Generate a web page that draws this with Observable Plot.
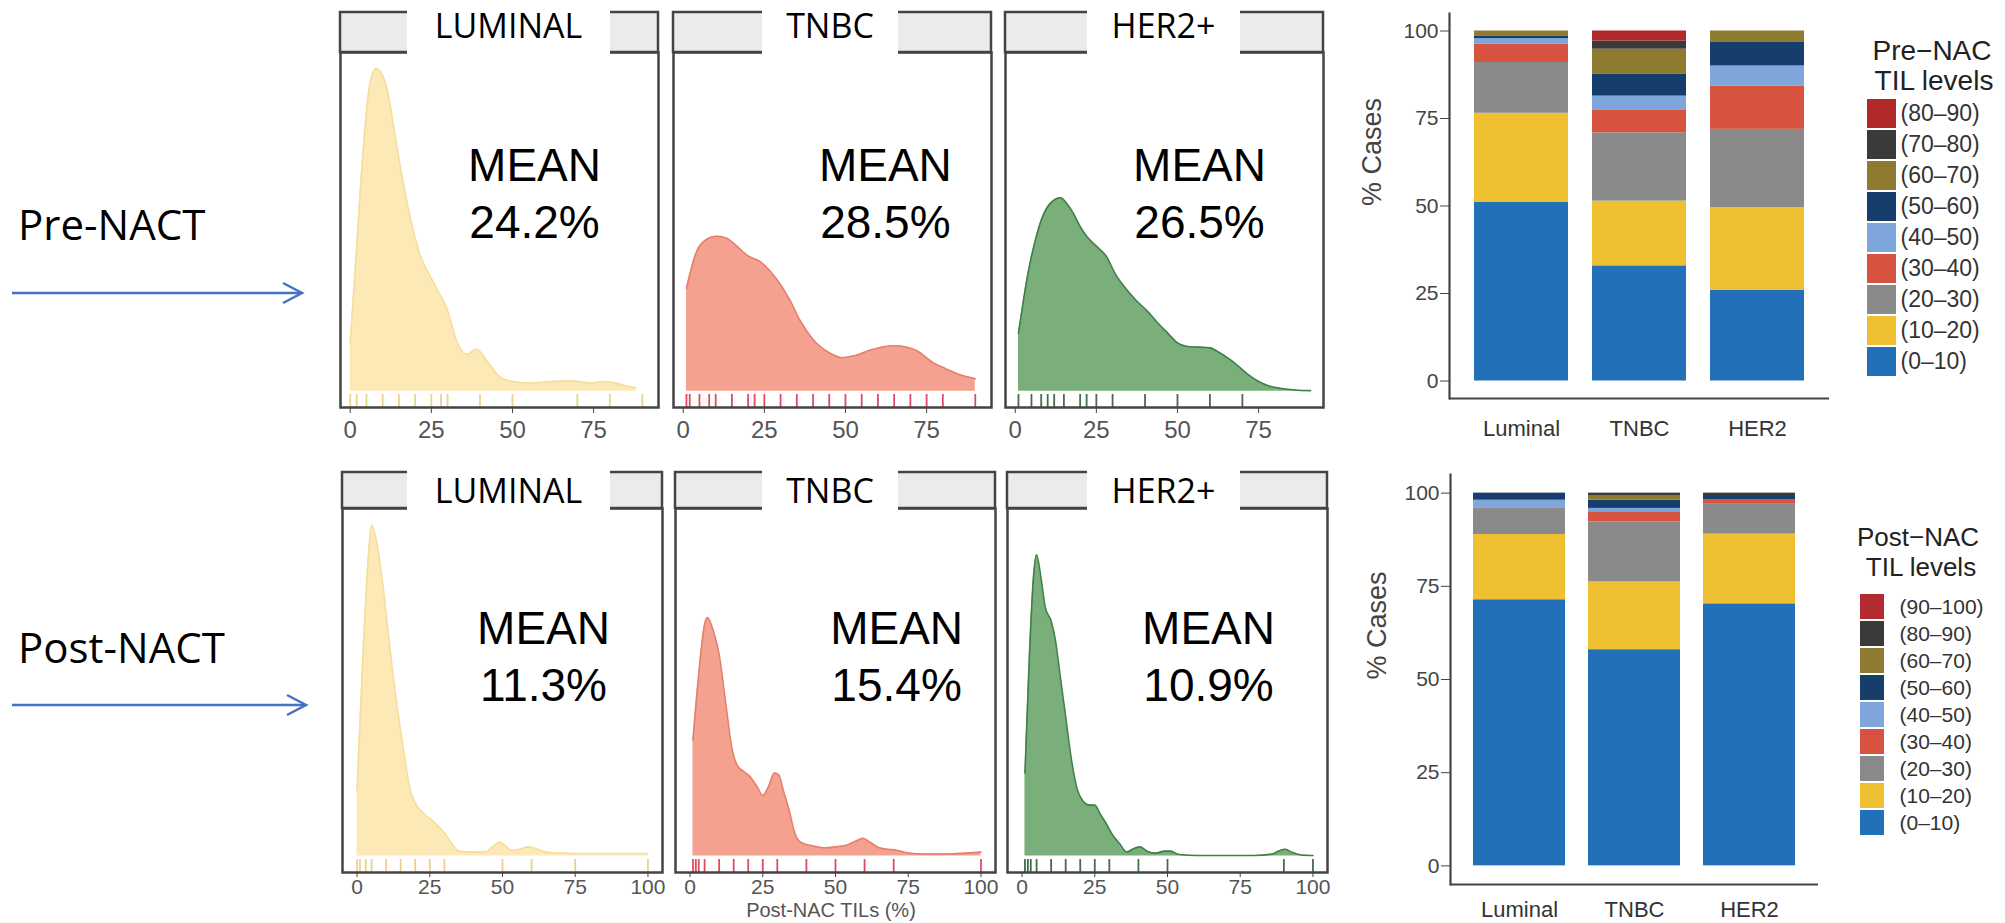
<!DOCTYPE html>
<html>
<head>
<meta charset="utf-8">
<script src="https://cdn.jsdelivr.net/npm/d3@7"></script>
<script src="https://cdn.jsdelivr.net/npm/@observablehq/plot@0.6"></script>
<style>
  html, body { margin: 0; padding: 0; background: #fff; }
  #fig { position: relative; width: 2005px; height: 923px; background: #fff; overflow: hidden; }
  #fig > svg, #fig > div { position: absolute; }
</style>
</head>
<body>
<div id="fig"></div>
<script>
// ---------------- DATA ----------------
const categories = ["Luminal", "TNBC", "HER2"];
const panelTitles = ["LUMINAL", "TNBC", "HER2+"];
const preMeans = ["24.2%", "28.5%", "26.5%"];
const postMeans = ["11.3%", "15.4%", "10.9%"];
const topTicks = [0, 25, 50, 75];
const bottomTicks = [0, 25, 50, 75, 100];
const pctTicks = [0, 25, 50, 75, 100];

// Pre-NAC TIL density (x = TIL %, d = density x100)
const preLumX = [0, 2, 4, 6, 8, 11, 15, 18, 21, 26, 30, 33, 36, 39, 42, 46, 50, 55, 62, 68, 74, 79, 84, 88];
const preLumD = [0.69, 2.07, 3.45, 4.37, 4.60, 4.37, 3.31, 2.58, 2.02, 1.52, 1.15, 0.69, 0.53, 0.60, 0.44, 0.21, 0.14, 0.12, 0.14, 0.15, 0.12, 0.14, 0.09, 0.05];
const preTnbcX = [1, 4, 7, 10, 13, 16, 20, 24, 27, 30, 33, 36, 40, 45, 49, 53, 57, 61, 65, 69, 72, 77, 81, 85, 90];
const preTnbcD = [1.47, 1.98, 2.16, 2.21, 2.19, 2.09, 1.93, 1.84, 1.70, 1.52, 1.29, 1.01, 0.74, 0.55, 0.48, 0.51, 0.58, 0.63, 0.65, 0.63, 0.58, 0.41, 0.32, 0.24, 0.18];
const preHer2X = [1, 2.5, 4, 6, 8, 11, 14, 16, 18, 20, 22, 25, 28, 31, 34, 37, 41, 44, 47, 50, 53, 57, 60, 63, 66, 69, 72, 75, 78, 82, 86, 91];
const preHer2D = [0.83, 1.29, 1.70, 2.12, 2.44, 2.69, 2.76, 2.67, 2.53, 2.35, 2.21, 2.07, 1.93, 1.66, 1.47, 1.31, 1.13, 0.97, 0.83, 0.69, 0.64, 0.63, 0.62, 0.55, 0.46, 0.35, 0.23, 0.14, 0.08, 0.04, 0.02, 0.01];

// Post-NAC TIL density
const postLumX = [0, 2, 4, 5, 6.5, 9, 11, 13.5, 16, 18, 20, 23, 27, 30, 32, 35, 40, 44, 47, 49, 51, 53, 56, 59, 62, 65, 70, 75, 85, 100];
const postLumD = [1.38, 4.14, 6.35, 6.90, 6.62, 5.59, 4.49, 3.24, 2.21, 1.45, 1.10, 0.88, 0.68, 0.48, 0.31, 0.10, 0.08, 0.08, 0.21, 0.29, 0.21, 0.12, 0.14, 0.19, 0.14, 0.08, 0.06, 0.05, 0.05, 0.05];
const postTnbcX = [1, 3, 5, 6, 8, 10, 12, 14.5, 16.5, 18.5, 20.5, 23, 25, 27, 29, 30.5, 32, 34, 36, 38, 42, 46, 50, 54, 57, 59.5, 62, 65, 68, 71, 75, 80, 88, 95, 100];
const postTnbcD = [2.42, 3.80, 4.83, 4.97, 4.69, 4.21, 3.31, 2.21, 1.86, 1.76, 1.66, 1.45, 1.26, 1.45, 1.73, 1.69, 1.38, 0.97, 0.48, 0.29, 0.21, 0.17, 0.19, 0.23, 0.31, 0.37, 0.28, 0.17, 0.14, 0.12, 0.06, 0.04, 0.04, 0.06, 0.08];
const postHer2X = [1, 2.5, 4, 5, 6.5, 8, 10, 11.5, 13, 15, 17, 19, 21, 23, 25, 27, 29, 31, 33.5, 36, 38, 40.5, 43, 46, 49, 51, 54, 60, 70, 80, 86, 88.5, 90.5, 93, 96, 100];
const postHer2D = [1.73, 4.14, 5.87, 6.28, 5.80, 5.18, 4.90, 4.49, 3.80, 2.90, 2.00, 1.38, 1.14, 1.06, 1.06, 0.86, 0.67, 0.45, 0.26, 0.08, 0.14, 0.19, 0.10, 0.06, 0.10, 0.10, 0.03, 0.01, 0.01, 0.01, 0.04, 0.11, 0.14, 0.07, 0.02, 0.01];

// Rug values (individual TIL scores)
const preLumRug = [0, 2, 5, 10, 15, 20, 25, 28, 30, 40, 50, 70, 80, 90];
const preTnbcRug = [1, 2, 5, 8, 10, 15, 20, 22, 25, 30, 35, 40, 45, 50, 55, 60, 65, 70, 75, 80, 90];
const preHer2Rug = [1, 5, 8, 10, 12, 15, 20, 22, 25, 30, 40, 50, 60, 70];
const postLumRug = [0, 1, 3, 5, 10, 15, 20, 25, 30, 50, 60, 75, 100];
const postTnbcRug = [1, 2, 3, 5, 10, 15, 20, 25, 30, 40, 50, 60, 70, 100];
const postHer2Rug = [1, 2, 3, 5, 10, 15, 20, 25, 30, 40, 50, 90, 100];

// Stacked bars: % cases per TIL level
const preLevels = ["(0–10)", "(10–20)", "(20–30)", "(30–40)", "(40–50)", "(50–60)", "(60–70)", "(70–80)", "(80–90)"];
const preColors = ["#2271B8", "#EEC032", "#8A8A8A", "#D5533F", "#7EA6DA", "#163E6C", "#8F7B2F", "#3A3A3A", "#B02A2A"];
const preLuminal = [51.0, 25.5, 14.5, 5.2, 1.6, 0.8, 1.4, 0, 0];
const preTNBC = [32.9, 18.5, 19.5, 6.4, 4.1, 6.2, 7.2, 2.3, 2.9];
const preHER2 = [25.9, 23.6, 22.4, 12.4, 5.7, 6.9, 3.1, 0, 0];

const postLevels = ["(0–10)", "(10–20)", "(20–30)", "(30–40)", "(40–50)", "(50–60)", "(60–70)", "(80–90)", "(90–100)"];
const postColors = ["#2271B8", "#EEC032", "#8A8A8A", "#D5533F", "#7EA6DA", "#163E6C", "#8F7B2F", "#3A3A3A", "#B22B2E"];
const postLuminal = [71.4, 17.5, 7.0, 0, 2.2, 1.9, 0, 0, 0];
const postTNBC = [58.0, 18.2, 16.1, 2.7, 0.9, 2.2, 1.1, 0.8, 0];
const postHER2 = [70.3, 18.7, 8.2, 1.1, 0, 0.8, 0, 0.9, 0];

// ---------------- STYLE / LAYOUT ----------------
const fills = ["#FCE9B5", "#F5A190", "#7AAE7B"];
const strokes = ["#F6DD9E", "#E57F6C", "#3F8046"];
const rugColors = ["#EBCB80", "#D73B4B", "#2F5E35"];
const SANS = "Liberation Sans, Arial, Helvetica, sans-serif";
const CAL = "Open Sans, Noto Sans, sans-serif";

const fig = document.getElementById("fig");
const NS = "http://www.w3.org/2000/svg";
function svgEl(tag, attrs, parent) {
  const e = document.createElementNS(NS, tag);
  for (const k in attrs) e.setAttribute(k, attrs[k]);
  if (parent) parent.appendChild(e);
  return e;
}
function place(node, left, top) {
  node.style.position = "absolute";
  node.style.left = left + "px";
  node.style.top = top + "px";
  fig.appendChild(node);
}

const rows = {
  top: {lefts: [340, 673, 1005], w: 318, stripY: 12, plotY: 52, plotH: 355, domX: [-3, 95],
        boxY: [0, 58], textBase: 38, meanX: [56.8, 62.3, 56.8], meanDy: 88,
        tickFont: 24, tickSize: 6, tickPad: 7, ticks: topTicks, means: preMeans,
        series: [[preLumX, preLumD, preLumRug], [preTnbcX, preTnbcD, preTnbcRug], [preHer2X, preHer2D, preHer2Rug]]},
  bottom: {lefts: [342, 675, 1007], w: 320, stripY: 472, plotY: 508, plotH: 364, domX: [-5, 105],
        boxY: [470, 520], textBase: 503, meanX: [64.1, 71, 64.1], meanDy: 95,
        tickFont: 21, tickSize: 5, tickPad: 2, ticks: bottomTicks, means: postMeans,
        series: [[postLumX, postLumD, postLumRug], [postTnbcX, postTnbcD, postTnbcRug], [postHer2X, postHer2D, postHer2Rug]]}
};
const labelBoxes = [[407, 610], [762, 898], [1087, 1240]];

// back layer: strips
const back = svgEl("svg", {width: 2005, height: 923});
back.style.left = "0px"; back.style.top = "0px";
fig.appendChild(back);
for (const key of ["top", "bottom"]) {
  const R = rows[key];
  R.lefts.forEach(L => {
    svgEl("rect", {x: L, y: R.stripY, width: R.w, height: R.plotY - R.stripY,
      fill: "#EBEBEB", stroke: "#444", "stroke-width": 2.5}, back);
  });
}

// density panels
for (const key of ["top", "bottom"]) {
  const R = rows[key];
  const M = d3.max(R.series, s => d3.max(s[1]));
  R.series.forEach((s, i) => {
    const data = s[0].map((x, j) => ({x, d: s[1][j]}));
    const chart = Plot.plot({
      width: R.w, height: R.plotH + 45,
      marginLeft: 0, marginRight: 0, marginTop: 0, marginBottom: 45,
      x: {domain: R.domX},
      y: {domain: [-0.05 * M, 1.05 * M], axis: null},
      style: {background: "transparent", overflow: "visible", fontFamily: SANS, color: "#4d4d4d"},
      marks: [
        Plot.areaY(data, {x: "x", y: "d", fill: fills[i], curve: "monotone-x"}),
        Plot.lineY(data, {x: "x", y: "d", stroke: strokes[i], strokeWidth: 1.6, curve: "monotone-x"}),
        Plot.tickX(s[2], {x: d => d, stroke: rugColors[i], strokeWidth: 1.8, strokeOpacity: 0.9, insetTop: R.plotH - 13}),
        Plot.frame({stroke: "#444", strokeWidth: 2.5}),
        Plot.axisX({ticks: R.ticks, tickSize: R.tickSize, tickPadding: R.tickPad, fontSize: R.tickFont,
                    label: null, stroke: "#444", fill: "#555"}),
        Plot.text([{x: R.meanX[i], t: "MEAN\n" + R.means[i]}], {
          x: "x", text: "t", frameAnchor: "top", dy: R.meanDy, lineAnchor: "top",
          fontSize: 46, lineHeight: 1.24, fontFamily: SANS, fill: "#000"})
      ]
    });
    place(chart, R.lefts[i], R.plotY);
  });
}

// stacked bar charts
function barChart(levels, colors, vals, opts) {
  const data = [];
  categories.forEach((c, ci) => levels.forEach((l, li) => data.push({cat: c, level: l, v: vals[ci][li]})));
  return Plot.plot({
    width: opts.width, height: opts.height,
    marginLeft: opts.ml, marginRight: 10, marginTop: opts.mt, marginBottom: opts.mb,
    x: {domain: categories, paddingInner: 0.2, paddingOuter: 0.2, label: null},
    y: {domain: [-5, 105], label: null},
    color: {domain: levels, range: colors},
    style: {background: "transparent", overflow: "visible", fontFamily: SANS, color: "#444"},
    marks: [
      Plot.barY(data, {x: "cat", y: "v", fill: "level"}),
      Plot.ruleY([-5], {stroke: "#444", strokeWidth: 2.2}),
      Plot.frame({anchor: "left", stroke: "#444", strokeWidth: 2.2}),
      Plot.axisY({ticks: pctTicks, tickSize: 9, tickPadding: 2, fontSize: 21, label: null, stroke: "#444", fill: "#444"}),
      Plot.axisX({tickSize: 0, tickPadding: opts.xpad, fontSize: 22, label: null, fill: "#333"}),
      Plot.text(["% Cases"], {text: d => d, frameAnchor: "left", rotate: -90, dx: opts.titleDx, fontSize: 27, fill: "#444"})
    ]
  });
}
place(barChart(preLevels, preColors, [preLuminal, preTNBC, preHER2],
  {width: 519, height: 448, ml: 129, mt: 13, mb: 50, xpad: 22, titleDx: -77}), 1320, 0);
place(barChart(postLevels, postColors, [postLuminal, postTNBC, postHER2],
  {width: 508, height: 484, ml: 130, mt: 34, mb: 40, xpad: 17, titleDx: -73}), 1320, 440);

// legends
function legend(levels, colors, opts) {
  return Plot.plot({
    width: opts.kw + 130, height: opts.h,
    marginLeft: 0, marginRight: 130, marginTop: 0, marginBottom: 0,
    y: {domain: levels.slice().reverse(), padding: opts.pad, axis: null},
    color: {domain: levels, range: colors},
    style: {background: "transparent", overflow: "visible", fontFamily: SANS},
    marks: [
      Plot.cell(levels, {y: d => d, fill: d => d}),
      Plot.text(levels, {y: d => d, text: d => d, frameAnchor: "right", dx: opts.dx, textAnchor: "start",
                         fontSize: opts.fs, fill: "#333"})
    ]
  });
}
place(legend(preLevels, preColors, {kw: 29, h: 283, pad: 0.06, dx: 4, fs: 23}), 1867, 96);
place(legend(postLevels, postColors, {kw: 24, h: 252, pad: 0.06, dx: 15, fs: 21}), 1860, 589);

// front layer: strip labels, left annotations, axis title, legend titles
const front = svgEl("svg", {width: 2005, height: 923});
front.style.left = "0px"; front.style.top = "0px";
fig.appendChild(front);
for (const key of ["top", "bottom"]) {
  const R = rows[key];
  labelBoxes.forEach((b, i) => {
    svgEl("rect", {x: b[0], y: R.boxY[0], width: b[1] - b[0], height: R.boxY[1] - R.boxY[0], fill: "#fff"}, front);
    const t = svgEl("text", {x: (b[0] + b[1]) / 2, y: R.textBase, "text-anchor": "middle",
      "font-family": CAL, "font-size": 34, fill: "#000"}, front);
    t.textContent = panelTitles[i];
  });
}
function txt(str, x, y, size, family, anchor, fill) {
  const t = svgEl("text", {x, y, "font-size": size, "font-family": family, "text-anchor": anchor || "start", fill: fill || "#000"}, front);
  t.textContent = str;
  return t;
}
txt("Pre-NACT", 18, 240, 42, CAL);
txt("Post-NACT", 18, 663, 42, CAL);
function arrow(x1, x2, y) {
  svgEl("line", {x1, y1: y, x2: x2 - 1, y2: y, stroke: "#4472C4", "stroke-width": 2.5}, front);
  svgEl("polyline", {points: `${x2 - 19},${y - 10} ${x2},${y} ${x2 - 19},${y + 10}`, fill: "none",
    stroke: "#4472C4", "stroke-width": 2.5, "stroke-linejoin": "miter"}, front);
}
arrow(12, 302, 293);
arrow(12, 306, 705);
txt("Post-NAC TILs (%)", 831, 917, 20, SANS, "middle", "#555");
txt("Pre−NAC", 1932, 60, 28, SANS, "middle", "#222");
txt("TIL levels", 1934, 90, 28, SANS, "middle", "#222");
txt("Post−NAC", 1918, 546, 26, SANS, "middle", "#222");
txt("TIL levels", 1921, 576, 26, SANS, "middle", "#222");
</script>
</body>
</html>
